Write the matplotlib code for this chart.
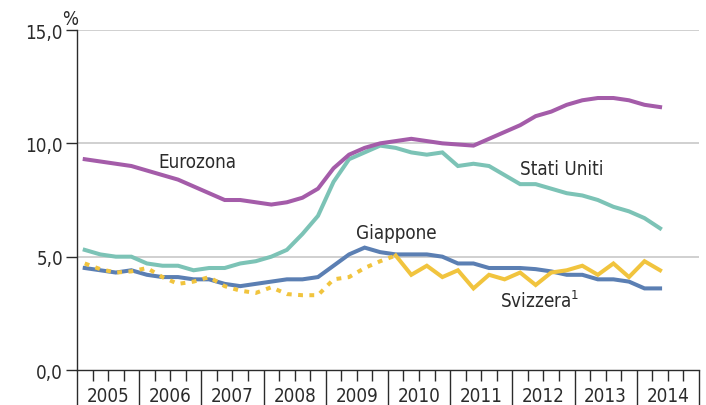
import numpy as np
import matplotlib
matplotlib.use("Agg")
import matplotlib.pyplot as plt
import matplotlib.transforms as mtransforms

plt.rcParams['font.family'] = ['DejaVu Sans']
plt.rcParams['font.stretch'] = 'condensed'

# quarterly data, 2005Q1 .. 2014Q2
years = list(range(2005, 2015))
n_quarters = 38

eurozona = [9.3, 9.2, 9.1, 9.0, 8.8, 8.6, 8.4, 8.1, 7.8, 7.5,
            7.5, 7.4, 7.3, 7.4, 7.6, 8.0, 8.9, 9.5, 9.8, 10.0,
            10.1, 10.2, 10.1, 10.0, 9.95, 9.9, 10.2, 10.5, 10.8, 11.2,
            11.4, 11.7, 11.9, 12.0, 12.0, 11.9, 11.7, 11.6]
stati_uniti = [5.3, 5.1, 5.0, 5.0, 4.7, 4.6, 4.6, 4.4, 4.5, 4.5,
               4.7, 4.8, 5.0, 5.3, 6.0, 6.8, 8.3, 9.3, 9.6, 9.9,
               9.8, 9.6, 9.5, 9.6, 9.0, 9.1, 9.0, 8.6, 8.2, 8.2,
               8.0, 7.8, 7.7, 7.5, 7.2, 7.0, 6.7, 6.25]
giappone = [4.5, 4.4, 4.3, 4.4, 4.2, 4.1, 4.1, 4.0, 4.0, 3.8,
            3.7, 3.8, 3.9, 4.0, 4.0, 4.1, 4.6, 5.1, 5.4, 5.2,
            5.1, 5.1, 5.1, 5.0, 4.7, 4.7, 4.5, 4.5, 4.5, 4.45,
            4.35, 4.2, 4.2, 4.0, 4.0, 3.9, 3.6, 3.6]
svizzera = [4.7, 4.45, 4.3, 4.35, 4.5, 4.1, 3.8, 3.9, 4.1, 3.7,
            3.5, 3.4, 3.65, 3.35, 3.3, 3.3, 4.0, 4.1, 4.5, 4.8,
            5.05, 4.2, 4.6, 4.1, 4.4, 3.6, 4.2, 4.0, 4.3, 3.75,
            4.3, 4.4, 4.6, 4.2, 4.7, 4.1, 4.8, 4.4]
svizzera_split = 20  # dotted up to this quarter, solid after

x = 2005 + (np.arange(n_quarters) + 0.5) / 4

c_euro = '#a45ca9'
c_us = '#7cc3b6'
c_jp = '#5b7fb3'
c_ch = '#f1c43e'
txt = '#2b2b2b'

fig = plt.figure(figsize=(7.06, 4.06), dpi=100)
ax = fig.add_axes([0.109, 0.0862, 0.881, 0.8374])

for yv in [5, 10, 15]:
    ax.axhline(yv, color='#c8c8c8', lw=1.2, zorder=1)

lw = 2.9
ax.plot(x, stati_uniti, color=c_us, lw=lw, zorder=3, solid_joinstyle='miter')
ax.plot(x, eurozona, color=c_euro, lw=lw, zorder=4, solid_joinstyle='miter')
ax.plot(x, giappone, color=c_jp, lw=lw, zorder=5, solid_joinstyle='miter')
ax.plot(x[:svizzera_split + 1], svizzera[:svizzera_split + 1], color=c_ch, lw=lw,
        linestyle=(0, (1.2, 1.6)), dash_capstyle='butt', zorder=6)
ax.plot(x[svizzera_split:], svizzera[svizzera_split:], color=c_ch, lw=lw,
        zorder=6, solid_joinstyle='miter')

ax.set_xlim(2005, 2015)
ax.set_ylim(0, 15)

ax.spines['top'].set_visible(False)
ax.spines['right'].set_visible(False)
for s in ['left', 'bottom']:
    ax.spines[s].set_color(txt)
    ax.spines[s].set_linewidth(1.0)

ax.set_yticks([0, 5, 10, 15])
ax.set_yticklabels(['0,0', '5,0', '10,0', '15,0'])
ax.tick_params(axis='y', length=8, width=1.0, color=txt, labelcolor=txt,
               labelsize=13.5, pad=2)

ax.set_xticks(list(range(2005, 2016)))
ax.set_xticklabels([])
ax.set_xticks([yr + q / 4 for yr in years for q in (1, 2, 3)], minor=True)
ax.tick_params(axis='x', which='major', length=25, width=1.0, color=txt)
ax.tick_params(axis='x', which='minor', length=8, width=1.0, color=txt)

trans = mtransforms.blended_transform_factory(ax.transData, ax.transAxes)
for yr in years:
    ax.text(yr + 0.5, -0.075, str(yr), transform=trans, ha='center', va='center',
            fontsize=13.5, color=txt)

ax.text(-0.011, 1.034, '%', transform=ax.transAxes, ha='center', va='center',
        fontsize=13.5, color=txt)

ax.text(2006.31, 9.19, 'Eurozona', ha='left', va='center', fontsize=13.5, color=txt)
ax.text(2012.12, 8.9, 'Stati Uniti', ha='left', va='center', fontsize=13.5, color=txt)
ax.text(2009.49, 6.07, 'Giappone', ha='left', va='center', fontsize=13.5, color=txt)
ax.text(2011.80, 3.06, 'Svizzera$^{1}$', ha='left', va='center', fontsize=13.5, color=txt)

fig.savefig('out.png', dpi=100)
